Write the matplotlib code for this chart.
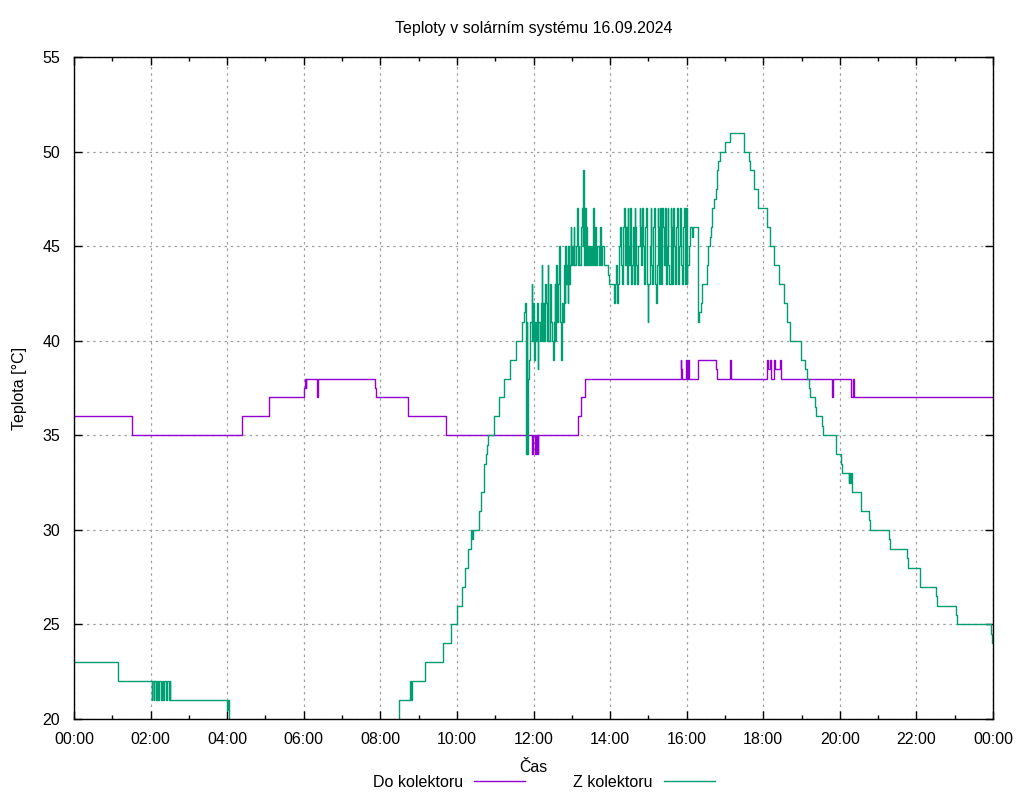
import matplotlib
matplotlib.use("Agg")
import matplotlib.pyplot as plt
from matplotlib.ticker import MultipleLocator

plt.rcParams['font.family'] = ['Liberation Sans', 'DejaVu Sans']

title = "Teploty v solárním systému 16.09.2024"
xlabel = "Čas"
ylabel = "Teplota [°C]"
series_names = ["Do kolektoru", "Z kolektoru"]
xtick_hours = list(range(0, 25, 2))
xtick_labels = ["00:00", "02:00", "04:00", "06:00", "08:00", "10:00", "12:00",
                "14:00", "16:00", "18:00", "20:00", "22:00", "00:00"]

# Do kolektoru (hours, °C)
do_t = [0, 1.52, 4.40, 5.08, 6.00, 6.02, 6.05, 6.07, 6.35, 6.38, 7.86, 7.88, 8.71, 9.72,
        11.95, 11.98, 12.04, 12.06, 12.08, 12.10, 12.11, 12.13,
        13.17, 13.24, 13.35,
        15.84, 15.86, 15.89, 15.99, 16.00, 16.03, 16.07, 16.30, 16.77, 16.80, 16.83,
        17.14, 17.16, 18.10, 18.12, 18.18, 18.20, 18.29, 18.31, 18.44, 18.46,
        19.79, 19.81, 20.30, 20.35, 20.37, 24.0]
do_v = [36, 35, 36, 37, 37.5, 38, 37.5, 38, 37, 38, 37.5, 37, 36, 35,
        34, 35, 34, 35, 34, 35, 34, 35,
        36, 37, 38,
        39, 38.5, 38, 39, 38, 39, 38, 39, 38.5, 38, 38,
        39, 38, 39, 38.5, 39, 38, 39, 38.5, 39, 38,
        37, 38, 37, 38, 37, 37]

# Z kolektoru (hours, °C)
z_t = [0, 1.16, 2.03, 2.05, 2.08, 2.10, 2.13, 2.16, 2.20, 2.22, 2.26, 2.30, 2.33, 2.36,
       2.40, 2.43, 2.47, 2.50, 2.52, 4.00, 4.03, 4.05,
       8.50, 8.77, 8.80, 8.83, 9.17, 9.63, 9.84, 10.00, 10.12, 10.20, 10.30, 10.38,
       10.40, 10.42, 10.57, 10.62, 10.70, 10.72, 10.76, 10.78, 10.82, 10.96, 11.11,
       11.24, 11.39, 11.53, 11.71, 11.76, 11.79, 11.80, 11.82, 11.84, 11.86, 11.88,
       11.90, 11.92,
       11.95, 11.97, 11.99, 12.02, 12.04, 12.06, 12.09, 12.11, 12.13, 12.16, 12.19,
       12.21, 12.23, 12.26, 12.28, 12.30, 12.33, 12.35, 12.37, 12.39, 12.42, 12.44,
       12.46, 12.48, 12.51, 12.53, 12.55, 12.57, 12.60, 12.62, 12.64, 12.66, 12.68,
       12.70, 12.72, 12.74, 12.77, 12.79, 12.81, 12.83, 12.85, 12.87, 12.89, 12.91,
       12.93, 12.95, 12.97, 12.99, 13.01, 13.03, 13.05, 13.07, 13.10, 13.13, 13.15,
       13.18, 13.20, 13.23, 13.26, 13.28, 13.30, 13.32, 13.34, 13.36, 13.38, 13.40,
       13.42, 13.44, 13.46, 13.48, 13.50, 13.52, 13.55, 13.57, 13.60, 13.63, 13.66,
       13.70, 13.73, 13.76, 13.80, 13.85, 13.95, 13.97,
       14.10, 14.13, 14.16, 14.18, 14.20, 14.22, 14.24, 14.26, 14.28, 14.30, 14.33,
       14.36, 14.38, 14.40, 14.42, 14.44, 14.46, 14.48, 14.50, 14.53, 14.55, 14.58,
       14.60, 14.62, 14.64, 14.66, 14.68, 14.71, 14.74, 14.77, 14.79, 14.81, 14.84,
       14.86, 14.88, 14.90, 14.93, 14.96, 14.98, 15.00, 15.03, 15.06, 15.08, 15.10,
       15.12, 15.14, 15.16, 15.18, 15.20, 15.22, 15.24, 15.26, 15.28, 15.30, 15.32,
       15.34, 15.36, 15.38, 15.40, 15.43, 15.45, 15.48, 15.50, 15.52, 15.55, 15.58,
       15.60, 15.62, 15.65, 15.67, 15.70, 15.72, 15.75, 15.78, 15.80, 15.83, 15.86,
       15.88, 15.90, 15.93, 15.95, 15.98, 16.00, 16.02, 16.06, 16.10, 16.13, 16.17,
       16.29, 16.33, 16.37, 16.41, 16.52, 16.56, 16.60, 16.63, 16.66, 16.72, 16.77,
       16.80, 16.83, 16.88, 17.00, 17.13, 17.50, 17.63, 17.66, 17.76, 17.87, 18.10,
       18.17, 18.28, 18.42, 18.55, 18.62, 18.71, 18.98, 19.10, 19.13, 19.20, 19.23,
       19.34, 19.37, 19.54, 19.57, 19.89, 19.91, 20.03, 20.06, 20.23, 20.25, 20.27,
       20.30, 20.32, 20.54, 20.75, 20.78, 21.29, 21.32, 21.76, 21.79, 22.10, 22.52,
       22.55, 23.03, 23.06, 23.96, 23.98, 24.0]
z_v = [23, 22, 21, 22, 21, 22, 21, 22, 21, 22, 21, 22, 21, 22,
       21, 22, 21, 22, 21, 20.5, 21, 19,
       21, 22, 21, 22, 23, 24, 25, 26, 27, 28, 29, 30,
       29.5, 30, 31, 32, 33, 33.5, 34, 34.5, 35, 36, 37,
       38, 39, 40, 41, 41.5, 42, 34, 41, 34, 38, 39,
       40, 41,
       43, 40, 42, 39, 41, 40, 42, 38.5, 41, 40, 42,
       44, 40, 42, 40, 43, 42, 40, 44, 40, 42, 43,
       41, 40, 39, 41, 43, 40, 44, 41, 43, 45, 43,
       41, 39, 42, 41, 44, 42, 45, 43, 44, 42, 45,
       43, 44, 46, 44, 45, 44, 46, 44, 45, 47, 44,
       45, 44, 46, 47, 45, 49, 44, 47, 44, 46, 44,
       45, 44, 45, 44, 45, 44, 47, 44, 46, 44, 45,
       44, 46, 44, 45, 44, 43.5, 43,
       42, 43, 44, 42, 43, 44, 45, 46, 44, 43, 46,
       47, 45, 44, 46, 43, 47, 45, 44, 47, 43, 44,
       46, 43, 47, 46, 44, 43, 45, 47, 46, 44, 47,
       45, 43, 46, 47, 43, 41, 43, 45, 47, 44, 43,
       46, 47, 45, 43, 42, 44, 47, 46, 43, 47, 45,
       43, 47, 46, 44, 47, 43, 45, 47, 44, 43, 47,
       46, 43, 47, 45, 43, 46, 47, 43, 45, 47, 44,
       43, 46, 47, 43, 47, 43, 44, 45, 46, 45.5, 46,
       41, 41.5, 42, 43, 44, 45, 45.5, 46, 47, 47.5, 48,
       49, 49.5, 50, 50.5, 51, 50, 49.5, 49, 48, 47, 46,
       45, 44, 43, 42, 41, 40, 39, 38.5, 38, 37.5, 37,
       36.5, 36, 35.5, 35, 34.5, 34, 33.5, 33, 32.5, 33, 32.5,
       33, 32, 31, 30.5, 30, 29.5, 29, 28.5, 28, 27, 26.5,
       26, 25.5, 25, 24.5, 24, 24]

purple = "#9400D3"
green = "#009E73"

fig = plt.figure(figsize=(10.24, 8.0), dpi=100)
ax = fig.add_axes([74 / 1024, 81 / 800, 919 / 1024, 662 / 800])

ax.step(do_t, do_v, where='post', color=purple, lw=1.0, label=series_names[0])
ax.step(z_t, z_v, where='post', color=green, lw=1.0, label=series_names[1])

ax.set_xlim(0, 24)
ax.set_ylim(20, 55)
ax.set_xticks(xtick_hours)
ax.set_xticklabels(xtick_labels)
ax.xaxis.set_minor_locator(MultipleLocator(1))
ax.yaxis.set_major_locator(MultipleLocator(5))
ax.grid(True, which='major', color='#a0a0a0', linestyle=(0, (2, 3)), lw=0.9)
ax.tick_params(which='both', direction='in', top=True, right=True, labelsize=11.5,
               colors='black')
ax.tick_params(axis='x', which='major', pad=9)
ax.tick_params(axis='y', which='major', pad=10)
ax.tick_params(which='major', length=6, width=1)
ax.tick_params(which='minor', length=3, width=1)
for s in ax.spines.values():
    s.set_linewidth(1.0)

ax.set_title(title, fontsize=11.5, pad=17)
ax.set_xlabel(xlabel, fontsize=11.5, labelpad=10)
ax.set_ylabel(ylabel, fontsize=11.5, labelpad=11)

h, l = ax.get_legend_handles_labels()
fig.legend(h, l, loc='center', bbox_to_anchor=(0.531, 0.022), ncol=2, frameon=False,
           markerfirst=False, fontsize=11.5, handlelength=3.2, columnspacing=3.0,
           handletextpad=0.7)

fig.savefig("out.png", dpi=100)
